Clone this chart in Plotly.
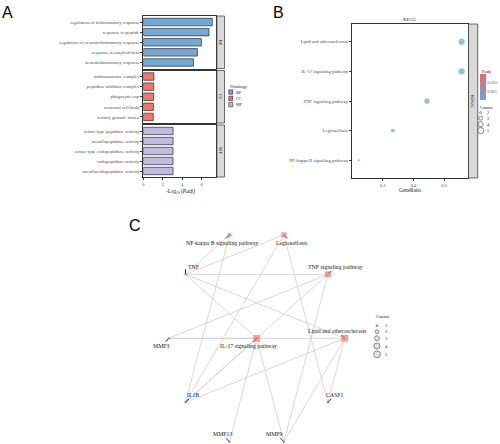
import plotly.graph_objects as go
import numpy as np

W, H = 500, 444
def fx(p): return p / W
def fy(p): return 1 - p / H

SERIF = "Liberation Serif"
SANS = "Liberation Sans"

# ---------------- Panel A data ----------------
bp_terms = ["regulation of inflammatory response", "response to peptide",
            "regulation of neuroinflammatory response", "response to amyloid-beta",
            "neuroinflammatory response"]
bp_vals = [7.08, 6.74, 5.96, 5.55, 5.14]
cc_terms = ["inflammasome complex", "peptidase inhibitor complex", "phagocytic cup",
            "neuronal cell body", "tertiary granule lumen"]
cc_vals = [1.09, 1.07, 1.05, 1.03, 1.02]
mf_terms = ["serine-type peptidase activity", "metallopeptidase activity",
            "serine-type endopeptidase activity", "endopeptidase activity",
            "metalloendopeptidase activity"]
mf_vals = [3.06, 3.06, 3.05, 3.05, 3.05]
ontologies = ["BP", "CC", "MF"]
onto_colors = ["#73A7D6", "#F1766E", "#BDBCE0"]
a_xticks = [0, 2, 4, 6]

# ---------------- Panel B data ----------------
kegg_terms = ["Lipid and atherosclerosis", "IL-17 signaling pathway", "TNF signaling pathway",
              "Legionellosis", "NF-kappa B signaling pathway"]
kegg_ratio = [0.556, 0.556, 0.444, 0.333, 0.222]
kegg_counts = [5, 5, 4, 3, 2]
kegg_padj = [0.0003, 0.0003, 0.0007, 0.0011, 0.0145]
b_xticks = [0.3, 0.4, 0.5]
b_padj_ticks = [0.005, 0.010]
b_padj_ticktext = ["0.005", "0.010"]
b_count_levels = [2, 3, 4, 5]

# ---------------- Panel C data ----------------
pathway_genes = {
    "Lipid and atherosclerosis": ["TNF", "IL1B", "MMP3", "MMP9", "CASP1"],
    "IL-17 signaling pathway": ["TNF", "IL1B", "MMP3", "MMP9", "MMP13"],
    "TNF signaling pathway": ["TNF", "IL1B", "MMP3", "MMP9"],
    "Legionellosis": ["TNF", "IL1B", "CASP1"],
    "NF-kappa B signaling pathway": ["TNF", "IL1B"],
}
ring_order = ["Lipid and atherosclerosis", "TNF signaling pathway", "Legionellosis",
              "NF-kappa B signaling pathway", "TNF", "MMP3", "IL1B", "MMP13", "MMP9", "CASP1"]
center_node = "IL-17 signaling pathway"
c_count_levels = [1, 2, 3, 4, 5]

# ---------------- figure ----------------
fig = go.Figure()

def axis_common(**kw):
    d = dict(showgrid=False, zeroline=False, showline=True, linecolor="#333333",
             linewidth=0.8, mirror=True, ticks="outside", ticklen=2, tickwidth=0.6,
             tickcolor="#333333", tickfont=dict(size=4.75, family=SERIF, color="#4D4D4D"))
    d.update(kw)
    return d

# A panels (pixel y extents)
a_x0, a_x1 = 143.3, 216.4
a_rows = [(16.0, 68.5), (70.5, 123.0), (125.0, 177.0)]
a_terms = [bp_terms, cc_terms, mf_terms]
a_vals = [bp_vals, cc_vals, mf_vals]
layout_axes = {}
for i in range(3):
    sfx = "" if i == 0 else str(i + 1)
    fig.add_trace(go.Bar(x=a_vals[i], y=a_terms[i], orientation="h", width=0.74,
                         marker=dict(color=onto_colors[i], line=dict(color="#2B2B2B", width=0.7)),
                         xaxis="x" + sfx, yaxis="y" + sfx, showlegend=False, hoverinfo="x+y"))
    top, bot = a_rows[i]
    layout_axes["xaxis" + sfx] = axis_common(
        domain=[fx(a_x0), fx(a_x1)], range=[0, 7.5], anchor="y" + sfx,
        tickvals=a_xticks, showticklabels=(i == 2), ticks="outside" if i == 2 else "")
    layout_axes["yaxis" + sfx] = axis_common(
        domain=[fy(bot), fy(top)], anchor="x" + sfx, type="category",
        categoryorder="array", categoryarray=a_terms[i], range=[4.6, -0.6])

# B panel
b_x0, b_x1, b_top, b_bot = 352.0, 468.0, 24.0, 178.0
def size_map(c, cmin, cmax, smin, smax):
    a, b = smin ** 2, smax ** 2
    return float(np.sqrt(a + (c - cmin) / (cmax - cmin) * (b - a)))

b_sizes = [size_map(c, 2, 5, 2.0, 6.3) for c in kegg_counts]
b_scale = [[0, "#6EA2D3"], [1, "#EC6A6A"]]
fig.add_trace(go.Scatter(
    x=kegg_ratio, y=kegg_terms, mode="markers", xaxis="x4", yaxis="y4", showlegend=False,
    marker=dict(size=b_sizes, color=kegg_padj, colorscale=b_scale,
                cmin=min(kegg_padj), cmax=max(kegg_padj), line=dict(width=0),
                colorbar=dict(x=fx(480.0), xanchor="left", y=fy(100.0), yanchor="bottom",
                              len=(100.0 - 74.0) / H, lenmode="fraction",
                              thickness=5.5, thicknessmode="pixels", outlinewidth=0,
                              xpad=0, ypad=0, ticks="", tickvals=b_padj_ticks,
                              ticktext=b_padj_ticktext,
                              tickfont=dict(size=4.2, family=SERIF, color="#4D4D4D")))))
layout_axes["xaxis4"] = axis_common(domain=[fx(b_x0), fx(b_x1)], range=[0.2005, 0.577],
                                    anchor="y4", tickvals=b_xticks, tickformat=".1f")
layout_axes["yaxis4"] = axis_common(domain=[fy(b_bot), fy(b_top)], anchor="x4", type="category",
                                    categoryorder="array", categoryarray=kegg_terms,
                                    range=[4.6, -0.6])

# C panel: ring layout (ellipse radii in px) with centre node
cx_px, cy_px, rx_px, ry_px = 256.7, 338.3, 88.0, 108.8
c_top_px = 215.0
pos = {center_node: (0.0, 0.0)}
for k, n in enumerate(ring_order):
    ang = np.deg2rad(36 * k)
    pos[n] = (float(np.cos(ang)), float(np.sin(ang)))
layout_axes["xaxis5"] = dict(domain=[0, 1], range=[-cx_px / rx_px, (W - cx_px) / rx_px],
                             visible=False, anchor="y5")
layout_axes["yaxis5"] = dict(domain=[0, fy(c_top_px)],
                             range=[-(H - cy_px) / ry_px, (cy_px - c_top_px) / ry_px],
                             visible=False, anchor="x5")
ex, ey = [], []
for p, genes in pathway_genes.items():
    for g in genes:
        ex += [pos[p][0], pos[g][0], None]
        ey += [pos[p][1], pos[g][1], None]
fig.add_trace(go.Scatter(x=ex, y=ey, mode="lines", xaxis="x5", yaxis="y5", showlegend=False,
                         line=dict(color="#D2CDCD", width=0.8), hoverinfo="skip"))

# label offsets (px): segment end and text centre relative to node
label_style = {
    "NF-kappa B signaling pathway": ((-3.5, 3.5), (-7.3, 8.0)),
    "Legionellosis": ((3.5, 3.5), (8.0, 7.7)),
    "TNF signaling pathway": ((3.5, -3.5), (7.3, -7.0)),
    "Lipid and atherosclerosis": ((-3.5, -3.5), (-7.7, -7.3)),
    "IL-17 signaling pathway": ((-3.5, 3.5), (-8.2, 7.7)),
    "TNF": ((0.0, -5.0), (8.0, -7.0)),
    "MMP3": ((-3.0, 3.5), (-7.7, 7.7)),
    "IL1B": ((3.5, -3.5), (7.7, -7.3)),
    "MMP13": ((-3.5, -3.5), (-7.3, -7.7)),
    "MMP9": ((-3.5, -3.5), (-9.0, -7.7)),
    "CASP1": ((3.5, -3.5), (7.0, -7.3)),
}
sx, sy = [], []
for n, ((dx, dy), _) in label_style.items():
    x0, y0 = pos[n]
    sx += [x0, x0 + dx / rx_px, None]
    sy += [y0, y0 - dy / ry_px, None]
fig.add_trace(go.Scatter(x=sx, y=sy, mode="lines", xaxis="x5", yaxis="y5", showlegend=False,
                         line=dict(color="#111111", width=0.9), hoverinfo="skip"))

paths = list(pathway_genes.keys())
genes_all = [n for n in ring_order if n not in pathway_genes]
p_counts = [len(pathway_genes[p]) for p in paths]
fig.add_trace(go.Scatter(
    x=[pos[p][0] for p in paths], y=[pos[p][1] for p in paths], mode="markers",
    xaxis="x5", yaxis="y5", showlegend=False, text=paths, hoverinfo="text",
    marker=dict(symbol="square", color="#F2756C",
                size=[size_map(c, 1, 5, 2.0, 6.8) for c in p_counts], line=dict(width=0))))
fig.add_trace(go.Scatter(
    x=[pos[g][0] for g in genes_all], y=[pos[g][1] for g in genes_all], mode="markers",
    xaxis="x5", yaxis="y5", showlegend=False, text=genes_all, hoverinfo="text",
    marker=dict(symbol="circle", color="#3F8ED6", size=2.2, line=dict(width=0))))

annotations = []
for n, (_, (tx, ty)) in label_style.items():
    annotations.append(dict(x=pos[n][0], y=pos[n][1], xref="x5", yref="y5", text=n,
                            showarrow=False, xshift=tx, yshift=-ty, xanchor="center",
                            yanchor="middle",
                            font=dict(size=5.8, family=SERIF, color="#1A1A1A")))

# legend keys on a pixel overlay axis
layout_axes["xaxis6"] = dict(domain=[0, 1], range=[0, W], visible=False, anchor="y6")
layout_axes["yaxis6"] = dict(domain=[0, 1], range=[H, 0], visible=False, anchor="x6")
b_leg_y = [112.6, 118.2, 124.2, 130.6]
fig.add_trace(go.Scatter(
    x=[480.6] * len(b_count_levels), y=b_leg_y, mode="markers", xaxis="x6", yaxis="y6",
    showlegend=False, hoverinfo="skip",
    marker=dict(size=[size_map(c, 2, 5, 2.0, 6.3) for c in b_count_levels], color="#EDEDED",
                line=dict(color="#222222", width=0.7))))
c_leg_y = [325.7, 331.7, 338.3, 346.0, 354.3]
fig.add_trace(go.Scatter(
    x=[377.0] * len(c_count_levels), y=c_leg_y, mode="markers", xaxis="x6", yaxis="y6",
    showlegend=False, hoverinfo="skip",
    marker=dict(size=[size_map(c, 1, 5, 2.0, 7.0) for c in c_count_levels], color="#D6D6D6",
                line=dict(color="#222222", width=0.7))))

def txt(xp, yp, s, size=4.5, anchor="left", family=SERIF, color="#1A1A1A", angle=0):
    annotations.append(dict(x=fx(xp), y=fy(yp), xref="paper", yref="paper", text=s,
                            showarrow=False, xanchor=anchor, yanchor="middle",
                            textangle=angle, font=dict(size=size, family=family, color=color)))

shapes = []
# A strips
for (top, bot), lab in zip(a_rows, ontologies):
    shapes.append(dict(type="rect", xref="paper", yref="paper", x0=fx(216.9), x1=fx(224.5),
                       y0=fy(bot), y1=fy(top), fillcolor="#D9D9D9",
                       line=dict(color="#333333", width=0.7)))
    txt(220.7, (top + bot) / 2, lab, size=4.6, anchor="center", angle=90)
# Ontology legend
txt(228.0, 86.0, "Ontology", size=4.5)
for yc, lab, col in zip([92.0, 98.4, 104.6], ontologies, onto_colors):
    shapes.append(dict(type="rect", xref="paper", yref="paper", x0=fx(228.8), x1=fx(232.8),
                       y0=fy(yc + 2.2), y1=fy(yc - 2.2), fillcolor=col,
                       line=dict(color="#2B2B2B", width=0.6)))
    txt(234.0, yc, lab, size=4.3)
txt(180.0, 191.3, "-Log<sub>10</sub> (<i>P.adj</i>)", size=5.2, anchor="center")

# B strips & texts
shapes.append(dict(type="rect", xref="paper", yref="paper", x0=fx(468.5), x1=fx(477.7),
                   y0=fy(b_bot), y1=fy(b_top), fillcolor="#D9D9D9",
                   line=dict(color="#333333", width=0.7)))
txt(473.1, (b_top + b_bot) / 2, "KEGG", size=4.6, anchor="center", angle=90)
txt(410.0, 19.5, "KEGG", size=4.8, anchor="center")
txt(410.0, 190.3, "GeneRatio", size=5.2, anchor="center")
txt(479.5, 71.2, "P.adj", size=4.6)
txt(478.0, 107.6, "Counts", size=4.4)
for yv, c in zip(b_leg_y, b_count_levels):
    txt(484.8, yv, str(c), size=4.3)
# C legend text
txt(373.8, 316.0, "Counts", size=4.6)
for yv, c in zip(c_leg_y, c_count_levels):
    txt(382.6, yv, str(c), size=4.5)

# panel letters
txt(7.6, 12.6, "A", size=16, anchor="center", family=SANS, color="#000000")
txt(278.3, 12.6, "B", size=16, anchor="center", family=SANS, color="#000000")
txt(135.0, 225.8, "C", size=16, anchor="center", family=SANS, color="#000000")

fig.update_layout(width=W, height=H, margin=dict(l=0, r=0, t=0, b=0, autoexpand=False),
                  paper_bgcolor="white", plot_bgcolor="rgba(0,0,0,0)", showlegend=False,
                  annotations=annotations, shapes=shapes, **layout_axes)
fig.write_html("out.html", config={"displayModeBar": False},
               post_script="document.body.style.margin='0px';document.body.style.overflow='hidden';")
